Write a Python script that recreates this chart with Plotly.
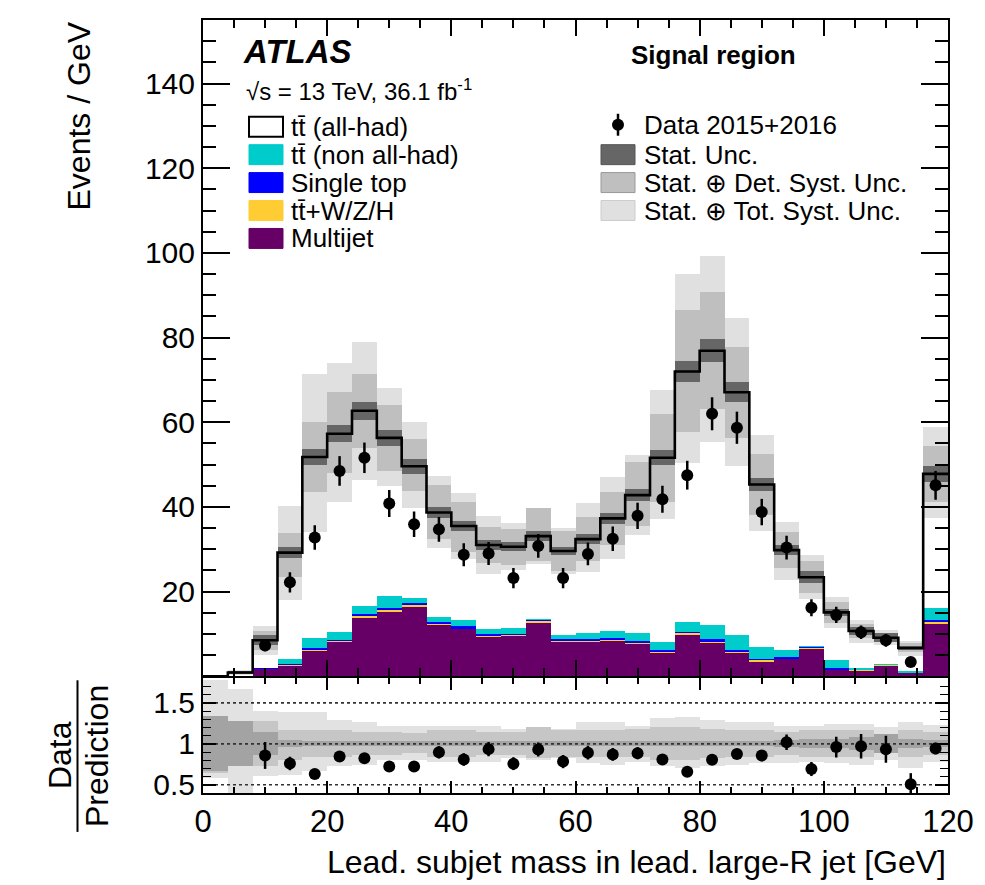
import plotly.graph_objects as go

# ---------------- data ----------------
bin_edges = [0, 4, 8, 12, 16, 20, 24, 28, 32, 36, 40, 44, 48, 52, 56, 60,
             64, 68, 72, 76, 80, 84, 88, 92, 96, 100, 104, 108, 112, 116, 120]

total_pred = [0.0, 0.9, 8.5, 29.2, 51.8, 57.3, 62.7, 56.3, 49.6, 38.7, 35.5, 31.0,
              30.6, 33.1, 29.6, 32.4, 37.3, 42.8, 51.6, 72.0, 76.9, 67.1, 45.3,
              29.8, 23.4, 15.1, 10.7, 9.1, 6.7, 47.8]

multijet = [0.0, 0.0, 1.8, 2.6, 6.0, 8.1, 13.8, 15.4, 16.5, 12.2, 11.2, 9.5, 9.6,
            12.8, 8.3, 8.2, 8.4, 7.8, 5.6, 9.9, 7.9, 5.6, 3.6, 4.1, 6.5, 1.6, 1.4,
            2.6, 0.8, 12.4]
ttv = [0.0, 0.0, 0.05, 0.1, 0.3, 0.25, 0.35, 0.3, 0.3, 0.25, 0.2, 0.2, 0.2, 0.3,
       0.2, 0.3, 0.25, 0.25, 0.2, 0.35, 0.3, 0.3, 0.3, 0.2, 0.2, 0.1, 0.1, 0.1,
       0.05, 0.4]
single_top = [0.0, 0.0, 0.1, 0.3, 0.4, 0.3, 0.5, 0.5, 0.5, 0.4, 0.4, 0.3, 0.3, 0.2,
              0.3, 0.3, 0.3, 0.3, 0.3, 0.3, 0.7, 0.4, 0.3, 0.2, 0.3, 0.2, 0.2, 0.1,
              0.1, 0.5]
tt_nonallhad = [0.0, 0.0, 0.0, 1.2, 2.4, 1.75, 2.05, 2.7, 1.2, 1.15, 1.4, 1.2, 1.2,
                0.3, 1.0, 1.4, 1.65, 1.95, 2.0, 2.35, 3.3, 3.5, 2.7, 1.6, 0.2, 2.0,
                0.3, 0.2, 0.35, 2.8]

data_vals = [None, None, 7.3, 22.2, 32.8, 48.5, 51.6, 40.8, 35.9, 34.7, 28.7, 29.0,
             23.2, 30.8, 23.2, 28.9, 32.5, 37.9, 41.8, 47.5, 62.0, 58.7, 38.8, 30.4,
             16.2, 14.5, 10.4, 8.5, 3.4, 45.1]
data_errs = [0, 0, 1.4, 2.4, 2.9, 3.5, 3.6, 3.2, 3.0, 2.9, 2.7, 2.7, 2.4, 2.8, 2.4,
             2.7, 2.9, 3.1, 3.2, 3.4, 3.9, 3.8, 3.1, 2.8, 2.0, 1.9, 1.6, 1.5, 0.9, 3.4]

# relative uncertainty bands (as ratio to prediction)
tot_hi = [1.78, 1.66, 1.40, 1.38, 1.38, 1.29, 1.26, 1.21, 1.21, 1.22, 1.22, 1.22, 1.18,
          1.20, 1.18, 1.26, 1.26, 1.22, 1.31, 1.32, 1.29, 1.26, 1.26, 1.22, 1.22, 1.24,
          1.24, 1.20, 1.26, 1.23]
tot_lo = [0.58, 0.40, 0.60, 0.62, 0.66, 0.72, 0.74, 0.80, 0.80, 0.78, 0.78, 0.78, 0.82,
          0.80, 0.82, 0.76, 0.74, 0.78, 0.72, 0.70, 0.72, 0.74, 0.76, 0.76, 0.78, 0.76,
          0.74, 0.80, 0.70, 0.78]
det_hi = [1.32, 1.27, 1.27, 1.16, 1.16, 1.17, 1.14, 1.14, 1.13, 1.17, 1.16, 1.14, 1.14,
          1.20, 1.16, 1.16, 1.17, 1.18, 1.20, 1.20, 1.18, 1.16, 1.16, 1.14, 1.16, 1.16,
          1.16, 1.12, 1.16, 1.14]
det_lo = [0.64, 0.73, 0.72, 0.80, 0.84, 0.84, 0.86, 0.86, 0.88, 0.84, 0.83, 0.86, 0.86,
          0.82, 0.84, 0.84, 0.83, 0.83, 0.80, 0.80, 0.82, 0.84, 0.84, 0.86, 0.84, 0.84,
          0.84, 0.88, 0.84, 0.86]
stat_rel = [0.34, 0.27, 0.14, 0.045, 0.035, 0.035, 0.035, 0.035, 0.035, 0.035, 0.035,
            0.035, 0.035, 0.035, 0.035, 0.035, 0.035, 0.035, 0.035, 0.035, 0.035, 0.035,
            0.035, 0.04, 0.06, 0.06, 0.08, 0.12, 0.06, 0.04]

x_ticks = [0, 20, 40, 60, 80, 100, 120]
y_ticks = [20, 40, 60, 80, 100, 120, 140]
r_ticks = [0.5, 1, 1.5]

# ---------------- derived ----------------
n = len(total_pred)
centers = [(bin_edges[i] + bin_edges[i + 1]) / 2 for i in range(n)]
widths = [bin_edges[i + 1] - bin_edges[i] for i in range(n)]
FONT = "Liberation Sans, Arial, Helvetica, sans-serif"

C_MJ = "#660066"
C_TTV = "#ffcc33"
C_ST = "#0000ff"
C_NAH = "#00cccc"
C_TOT = "#e0e0e0"
C_DET = "#bfbfbf"
C_STAT = "#666666"

fig = go.Figure()

# stacked backgrounds
base = [0.0] * n
for vals, col in [(multijet, C_MJ), (ttv, C_TTV), (single_top, C_ST), (tt_nonallhad, C_NAH)]:
    fig.add_trace(go.Bar(x=centers, y=vals, base=list(base), width=widths,
                         marker=dict(color=col, line=dict(width=0)),
                         xaxis="x", yaxis="y", showlegend=False, hoverinfo="skip"))
    base = [b + v for b, v in zip(base, vals)]
allhad = [max(t - b, 0) for t, b in zip(total_pred, base)]
fig.add_trace(go.Bar(x=centers, y=allhad, base=list(base), width=widths,
                     marker=dict(color="white", line=dict(width=0)),
                     xaxis="x", yaxis="y", showlegend=False, hoverinfo="skip"))

# uncertainty bands, main panel
for hi, lo, col in [(tot_hi, tot_lo, C_TOT), (det_hi, det_lo, C_DET),
                    ([1 + s for s in stat_rel], [1 - s for s in stat_rel], C_STAT)]:
    fig.add_trace(go.Bar(x=centers, y=[p * (h - l) for p, h, l in zip(total_pred, hi, lo)],
                         base=[p * l for p, l in zip(total_pred, lo)], width=widths,
                         marker=dict(color=col, line=dict(width=0)),
                         xaxis="x", yaxis="y", showlegend=False, hoverinfo="skip"))

# uncertainty bands, ratio panel
for hi, lo, col in [(tot_hi, tot_lo, "#e2e2e2"), (det_hi, det_lo, "#c6c6c6"),
                    ([1 + s for s in stat_rel], [1 - s for s in stat_rel], "#a3a3a3")]:
    fig.add_trace(go.Bar(x=centers, y=[h - l for h, l in zip(hi, lo)], base=lo, width=widths,
                         marker=dict(color=col, line=dict(width=0)),
                         xaxis="x2", yaxis="y2", showlegend=False, hoverinfo="skip"))

# total prediction outline
fig.add_trace(go.Scatter(x=bin_edges, y=total_pred + [total_pred[-1]], mode="lines",
                         line=dict(color="black", width=2.6, shape="hv"),
                         xaxis="x", yaxis="y", showlegend=False, hoverinfo="skip"))

# ratio reference lines
for rv in r_ticks:
    fig.add_trace(go.Scatter(x=[x_ticks[0], x_ticks[-1]], y=[rv, rv], mode="lines",
                             line=dict(color="#333333", width=1.6, dash="dot"),
                             xaxis="x2", yaxis="y2", showlegend=False, hoverinfo="skip"))

# data
fig.add_trace(go.Scatter(x=centers, y=data_vals, mode="markers",
                         marker=dict(color="black", size=12),
                         error_y=dict(type="data", array=data_errs, color="black",
                                      thickness=2.5, width=0),
                         xaxis="x", yaxis="y", showlegend=False))
ratio = [None if (d is None or p == 0) else d / p for d, p in zip(data_vals, total_pred)]
ratio_err = [0 if (d is None or p == 0) else e / p for d, e, p in zip(data_vals, data_errs, total_pred)]
fig.add_trace(go.Scatter(x=centers, y=ratio, mode="markers",
                         marker=dict(color="black", size=12),
                         error_y=dict(type="data", array=ratio_err, color="black",
                                      thickness=2.5, width=0),
                         xaxis="x2", yaxis="y2", showlegend=False))

# ---------------- layout ----------------
# the page body adds an 8 px offset; figure coords = window coords - 8
OFF = 8
W, H = 985 - OFF, 885 - OFF
L, T = 203 - OFF, 18 - OFF
R = W - (948 - OFF)
B = H - (793 - OFF)
PW, PH = W - L - R, H - T - B


def px(x):
    return (x - OFF - L) / PW


def py(y):
    return (H - B - (y - OFF)) / PH


axis_common = dict(showline=True, linecolor="black", linewidth=2, mirror="allticks",
                   ticks="inside", tickcolor="black", tickwidth=1.6,
                   showgrid=False, zeroline=False)

fig.update_layout(
    width=W, height=H, margin=dict(l=L, r=R, t=T, b=B),
    paper_bgcolor="white", plot_bgcolor="white",
    barmode="overlay", bargap=0,
    font=dict(family=FONT, color="black"),
    xaxis=dict(domain=[0, 1], range=[0, 120], anchor="y", tickvals=x_ticks,
               showticklabels=False, ticklen=16,
               minor=dict(tick0=0, dtick=5, ticklen=8, ticks="inside",
                          tickcolor="black", tickwidth=1.6),
               **axis_common),
    yaxis=dict(domain=[py(676), 1], range=[0, 155], anchor="x", tickvals=y_ticks,
               ticklen=27, tickfont=dict(size=30),
               minor=dict(tick0=0, dtick=5, ticklen=13, ticks="inside",
                          tickcolor="black", tickwidth=1.6),
               **axis_common),
    xaxis2=dict(domain=[0, 1], range=[0, 120], anchor="y2", tickvals=x_ticks,
                ticklen=12, tickfont=dict(size=31),
                minor=dict(tick0=0, dtick=5, ticklen=6, ticks="inside",
                           tickcolor="black", tickwidth=1.6),
                **axis_common),
    yaxis2=dict(domain=[0, py(678)], range=[0.4, 1.8], anchor="x2", tickvals=r_ticks,
                ticktext=["0.5", "1", "1.5"], ticklen=13, tickfont=dict(size=30),
                minor=dict(tick0=0, dtick=0.1, ticklen=8, ticks="inside",
                           tickcolor="black", tickwidth=1.2),
                **axis_common),
)

ann = []
shapes = []


def text(x, y, s, size, anchor="left", angle=0, yanchor="middle"):
    ann.append(dict(xref="paper", yref="paper", x=px(x), y=py(y), text=s,
                    showarrow=False, xanchor=anchor, yanchor=yanchor, textangle=angle,
                    font=dict(family=FONT, size=size, color="black")))


# axis titles
text(948, 862, "Lead. subjet mass in lead. large-R jet [GeV]", 32, anchor="right")
text(78, 18, "Events / GeV", 32, anchor="center", angle=-90, yanchor="top")
text(60, 755, "Data", 32, anchor="center", angle=-90)
text(97, 756, "Prediction", 32, anchor="center", angle=-90)
shapes.append(dict(type="line", xref="paper", yref="paper", x0=px(77.5), x1=px(77.5),
                   y0=py(680), y1=py(832), line=dict(color="black", width=2)))

# labels
text(241, 50, "<b><i>ATLAS</i></b>", 33)
text(244, 88, "√s = 13 TeV, 36.1 fb<sup>-1</sup>", 24)
text(629, 53, "<b>Signal region</b>", 26)

tbar = "t" + "t\u0304"
left_entries = [(tbar + " (all-had)", "white", "black"),
                (tbar + " (non all-had)", C_NAH, C_NAH),
                ("Single top", C_ST, C_ST),
                (tbar + "+W/Z/H", C_TTV, C_TTV),
                ("Multijet", C_MJ, C_MJ)]
left_y = [125, 153, 181, 209, 237]
for (lab, fc, lc), yy in zip(left_entries, left_y):
    shapes.append(dict(type="rect", xref="paper", yref="paper", x0=px(249), x1=px(283),
                       y0=py(yy + 10), y1=py(yy - 10), fillcolor=fc,
                       line=dict(color=lc, width=2 if fc == "white" else 1)))
    text(289, yy, lab, 26)

right_entries = [("Stat. Unc.", C_STAT, "#555555"),
                 ("Stat. ⊕ Det. Syst. Unc.", C_DET, "#999999"),
                 ("Stat. ⊕ Tot. Syst. Unc.", C_TOT, "#cccccc")]
right_y = [153, 181, 209]
for (lab, fc, lc), yy in zip(right_entries, right_y):
    shapes.append(dict(type="rect", xref="paper", yref="paper", x0=px(601), x1=px(635),
                       y0=py(yy + 10), y1=py(yy - 10), fillcolor=fc,
                       line=dict(color=lc, width=1)))
    text(642, yy, lab, 26)

# data legend marker
shapes.append(dict(type="line", xref="paper", yref="paper", x0=px(618), x1=px(618),
                   y0=py(112), y1=py(134), line=dict(color="black", width=2.5)))
shapes.append(dict(type="circle", xref="paper", yref="paper", x0=px(612), x1=px(624),
                   y0=py(129), y1=py(117), fillcolor="black", line=dict(color="black", width=0)))
text(642, 123, "Data 2015+2016", 26)

fig.update_layout(annotations=ann, shapes=shapes)

fig.write_html("out.html")
